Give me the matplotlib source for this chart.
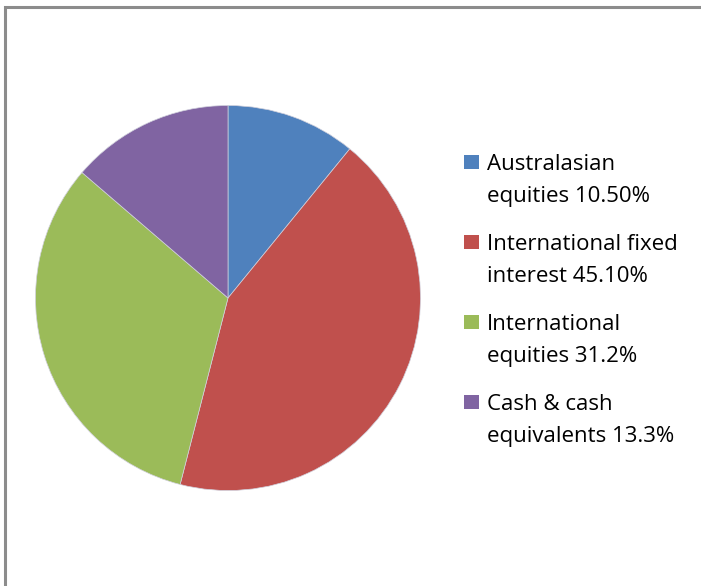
import matplotlib.pyplot as plt
from matplotlib.patches import Rectangle

labels = ['Australasian\nequities 10.50%',
          'International fixed\ninterest 45.10%',
          'International\nequities 31.2%',
          'Cash & cash\nequivalents 13.3%']
# wedge sizes as drawn in the picture (they differ a bit from the labels)
values = [10.9, 43.1, 32.3, 13.7]
colors = ['#4F81BD', '#C0504D', '#9BBB59', '#8064A2']

W, H = 701, 586
fig = plt.figure(figsize=(W / 100, H / 100), dpi=100)

# gray chart border (right/bottom edges run off the picture)
fig.patches.append(Rectangle((5 / W, -0.1), 1.2, 1 - 6.5 / H + 0.1,
                             transform=fig.transFigure, fill=False,
                             edgecolor='#8c8c8c', linewidth=2.2))

cx, cy, r = 228, 298, 192.5
ax = fig.add_axes([(cx - r) / W, (H - cy - r) / H, 2 * r / W, 2 * r / H])
ax.pie(values, colors=colors, startangle=90, counterclock=False,
       wedgeprops=dict(linewidth=0.5, edgecolor='#d0d0dc'))
ax.set_xlim(-1, 1)
ax.set_ylim(-1, 1)
ax.set_aspect('equal')

# legend, squares lined up with the first text line
for i, (lab, col) in enumerate(zip(labels, colors)):
    base = 170 + 80 * i
    fig.patches.append(Rectangle((464 / W, 1 - (base - 1) / H), 15 / W, 14 / H,
                                 transform=fig.transFigure, facecolor=col,
                                 edgecolor='none'))
    for k, line in enumerate(lab.split('\n')):
        fig.text(487 / W, 1 - (base + 32 * k) / H, line, fontsize=16,
                 family='Open Sans', va='baseline', ha='left', color='black')

plt.savefig('out.png', dpi=100)
